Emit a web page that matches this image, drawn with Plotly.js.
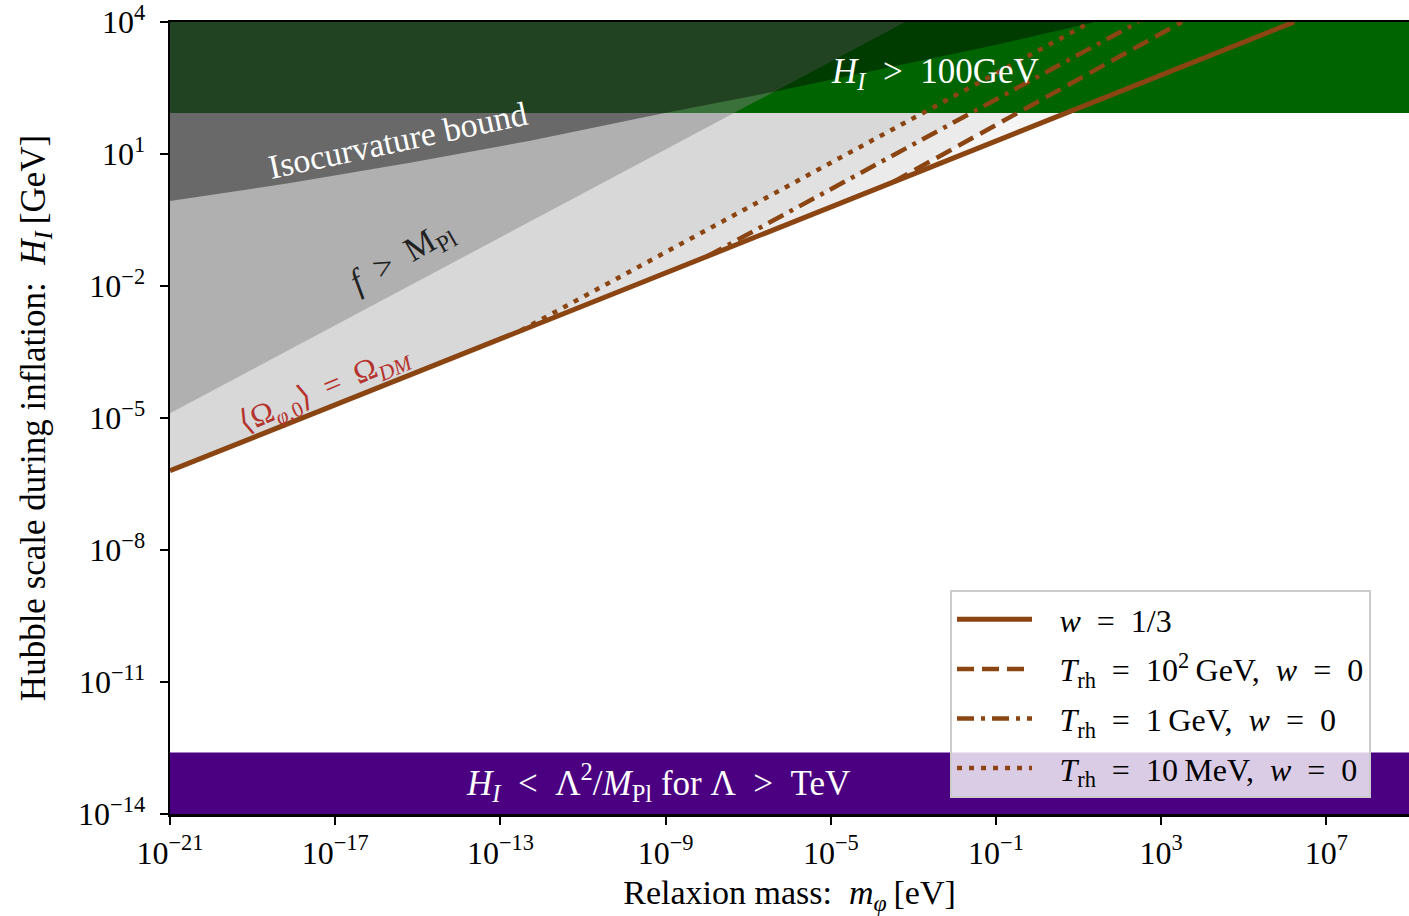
<!DOCTYPE html>
<html>
<head>
<meta charset="utf-8">
<script src="https://cdn.plot.ly/plotly-3.0.1.min.js"></script>
<style>
  html, body { margin: 0; padding: 0; background: #ffffff; }
  #chart { width: 1409px; height: 916px; }
</style>
</head>
<body>
<div id="chart"></div>
<script>
// ---------- data (log10 values: mass in eV, H_I in GeV) ----------
const solidLogM   = [-21, -13, -5, 3, 6.22];
const solidLogH   = [-6.2, -3.2, -0.2, 2.8, 4.0];
const dashLogM    = [-3.5, 3.5];          // T_rh = 10^2 GeV, w = 0
const dashLogH    = [0.36, 4.0];
const dashDotLogM = [-8.0, 2.45];         // T_rh = 1 GeV, w = 0
const dashDotLogH = [-1.33, 4.0];
const dotLogM     = [-12.5, 1.3];         // T_rh = 10 MeV, w = 0
const dotLogH     = [-3.01, 4.0];
const fMplLogM    = [-21, -3.2];          // f > M_Pl boundary
const fMplLogH    = [-4.89, 4.0];
const isoLogM     = [-21, -18.09, -15.19, -12.28, -9.14, -6.40, -3.32, -0.90, 1.40];
const isoLogH     = [-0.07, 0.34, 0.80, 1.30, 1.91, 2.41, 3.02, 3.50, 4.0];
const greenBandLogH  = [1.93, 4];         // H_I > 100 GeV
const purpleBandLogH = [-14, -12.6];      // H_I < Λ^2/M_Pl for Λ > TeV
const xRangeLog = [-21, 9];
const yRangeLog = [-14, 4];
const xTickExp = [-21, -17, -13, -9, -5, -1, 3, 7];
const yTickExp = [4, 1, -2, -5, -8, -11, -14];
const legendNames = [
  '<i>w</i>\u2002=\u20021/3',
  '<i>T</i><sub>rh</sub>\u2002=\u200210<sup>2</sup>\u2009GeV,\u2002<i>w</i>\u2002=\u20020',
  '<i>T</i><sub>rh</sub>\u2002=\u20021\u2009GeV,\u2002<i>w</i>\u2002=\u20020',
  '<i>T</i><sub>rh</sub>\u2002=\u200210\u2009MeV,\u2002<i>w</i>\u2002=\u20020'
];

// ---------- helpers ----------
const p10 = a => a.map(v => Math.pow(10, v));
const sup = e => '10<sup>' + (e < 0 ? '\u2212' + Math.abs(e) : e) + '</sup>';
const FONT = '"Liberation Serif", "DejaVu Serif", serif';
const BROWN = '#8B4513';

function poly(xs, ys, color) {
  return {x: p10(xs), y: p10(ys), mode: 'lines', fill: 'toself', fillcolor: color,
          line: {width: 0, color: 'rgba(0,0,0,0)'}, hoverinfo: 'skip', showlegend: false};
}
// region above a line that branches off the solid curve
function aboveBranch(lx, ly) {
  const xs = [], ys = [];
  for (let i = 0; i < solidLogM.length; i++) if (solidLogM[i] < lx[0]) { xs.push(solidLogM[i]); ys.push(solidLogH[i]); }
  lx.forEach((v, i) => { xs.push(v); ys.push(ly[i]); });
  xs.push(xRangeLog[0]); ys.push(yRangeLog[1]);
  return [xs, ys];
}

const traces = [];
const LIGHT = 'rgba(0,0,0,0.04)';
// overproduction shading (stacked light fills)
traces.push(poly(solidLogM.concat([xRangeLog[0]]), solidLogH.concat([yRangeLog[1]]), LIGHT));
[[dashLogM, dashLogH], [dashDotLogM, dashDotLogH], [dotLogM, dotLogH]].forEach(([lx, ly]) => {
  const [xs, ys] = aboveBranch(lx, ly);
  traces.push(poly(xs, ys, LIGHT));
});
// green band
traces.push(poly([xRangeLog[0], xRangeLog[1], xRangeLog[1], xRangeLog[0]],
                 [greenBandLogH[0], greenBandLogH[0], greenBandLogH[1], greenBandLogH[1]], '#006400'));
// f > M_Pl
traces.push(poly(fMplLogM.concat([xRangeLog[0]]), fMplLogH.concat([yRangeLog[1]]), 'rgba(127,127,127,0.456)'));
// isocurvature
traces.push(poly(isoLogM.concat([xRangeLog[0]]), isoLogH.concat([yRangeLog[1]]), 'rgba(0,0,0,0.4)'));
// purple band
traces.push(poly([xRangeLog[0], xRangeLog[1], xRangeLog[1], xRangeLog[0]],
                 [purpleBandLogH[0], purpleBandLogH[0], purpleBandLogH[1], purpleBandLogH[1]], '#4B0082'));

// lines
const lineDefs = [
  [solidLogM, solidLogH, 'solid'],
  [dashLogM, dashLogH, '17px,8px'],
  [dashDotLogM, dashDotLogH, '17px,7px,4px,7px'],
  [dotLogM, dotLogH, '5px,7px']
];
lineDefs.forEach(([lx, ly, dash], i) => {
  traces.push({x: p10(lx), y: p10(ly), mode: 'lines', name: '\u2002\u2009' + legendNames[i],
               legendgroup: 'g' + i,
               line: {color: BROWN, width: i === 0 ? 5 : 4.5, dash: dash},
               hoverinfo: 'skip', showlegend: true});
});

const W = 1409, H = 916, L = 170, R = 0, T = 22, B = 102;
const pw = W - L - R, ph = H - T - B;
const px = x => (x - L) / pw;
const py = y => (H - B - y) / ph;

function ann(text, x, y, angle, color, size) {
  return {text: text, x: px(x), y: py(y), xref: 'paper', yref: 'paper', showarrow: false,
          textangle: angle, font: {family: FONT, size: size, color: color},
          xanchor: 'center', yanchor: 'middle'};
}

const layout = {
  width: W, height: H,
  margin: {l: L, r: R, t: T, b: B, pad: 0},
  paper_bgcolor: '#ffffff', plot_bgcolor: '#ffffff',
  font: {family: FONT, size: 30, color: '#000'},
  showlegend: true,
  legend: {x: px(950), y: py(590), xanchor: 'left', yanchor: 'top',
           bgcolor: 'rgba(255,255,255,0.8)', bordercolor: '#cccccc', borderwidth: 2,
           font: {family: FONT, size: 32, color: '#000'}, itemwidth: 75, tracegroupgap: 5},
  xaxis: {type: 'log', range: xRangeLog, showgrid: false, zeroline: false,
          showline: true, linecolor: '#000', linewidth: 2.5, mirror: true,
          ticks: 'outside', ticklen: 8, tickwidth: 2, tickcolor: '#000',
          tickvals: p10(xTickExp), ticktext: xTickExp.map(sup), ticklabelstandoff: 1,
          ticklabeloverflow: 'allow',
          tickfont: {family: FONT, size: 32},
          title: {text: 'Relaxion mass:\u2002<i>m<sub>φ</sub></i>\u2009[eV]', font: {family: FONT, size: 34}, standoff: 14}},
  yaxis: {type: 'log', range: yRangeLog, showgrid: false, zeroline: false,
          showline: true, linecolor: '#000', linewidth: 2.5, mirror: false,
          ticks: 'outside', ticklen: 8, tickwidth: 2, tickcolor: '#000',
          tickvals: p10(yTickExp), ticktext: yTickExp.map(sup), ticklabelstandoff: 8,
          ticklabeloverflow: 'allow',
          tickfont: {family: FONT, size: 32},
          title: {text: 'Hubble scale during inflation:\u2002<i>H<sub>I</sub></i>\u2009[GeV]', font: {family: FONT, size: 35}, standoff: 22}},
  annotations: [
    ann('Isocurvature bound', 397, 140, -12, '#ffffff', 34),
    ann('<i>f</i>\u2002&gt;\u2002M<sub>Pl</sub>', 402, 258, -30, '#222222', 34),
    ann('⟨Ω<sub><i>φ</i>,0</sub>⟩\u2002=\u2002Ω<sub><i>DM</i></sub>', 325, 390, -23, '#b5332e', 31),
    ann('<i>H<sub>I</sub></i>\u2002&gt;\u2002100GeV', 935, 74, 0, '#ffffff', 35),
    ann('<i>H<sub>I</sub></i>\u2002&lt;\u2002Λ<sup>2</sup>/<i>M</i><sub>Pl</sub> for Λ\u2002&gt;\u2002TeV', 658, 782, 0, '#ffffff', 35)
  ]
};

Plotly.newPlot('chart', traces, layout, {displayModeBar: false, staticPlot: true});
</script>
</body>
</html>
